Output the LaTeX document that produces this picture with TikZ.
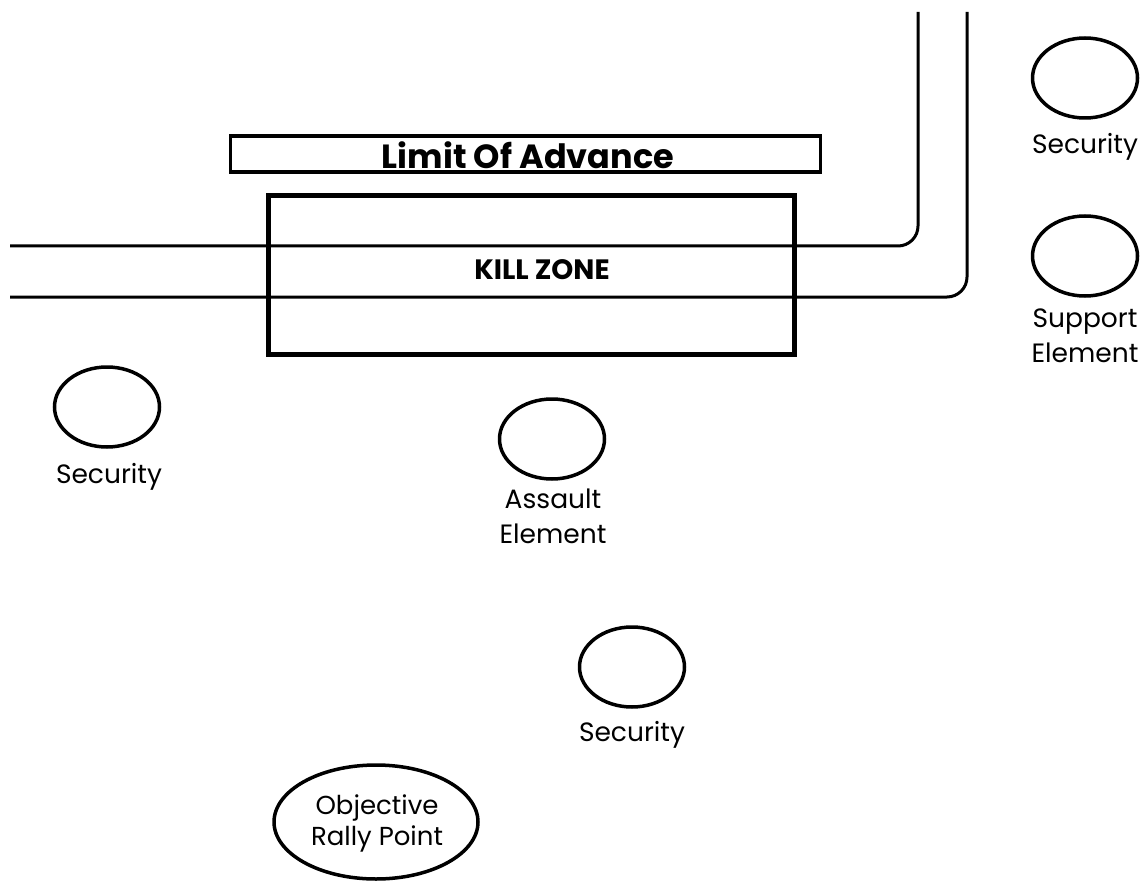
\documentclass[tikz,border=0pt]{standalone}
\usepackage{fontspec}
\setmainfont{Poppins}
\usetikzlibrary{shapes.geometric}
\tikzset{
  unit/.style={draw, ellipse, line width=3.5pt, minimum width=105pt, minimum height=80pt, inner sep=0pt},
  lbl/.style={align=center, inner sep=0pt, font=\fontsize{26.5}{35}\selectfont},
  road/.style={line width=3pt, rounded corners=20pt},
}
\begin{document}
\begin{tikzpicture}[x=1pt,y=-1pt]
\useasboundingbox (0,0) rectangle (1145,885);
% roads
\coordinate (r1s) at (10,246);
\coordinate (r1c) at (918,246);
\coordinate (r1e) at (918,12);
\coordinate (r2s) at (10,297);
\coordinate (r2c) at (967,297);
\coordinate (r2e) at (967,12);
\draw[road] (r1s) -- (r1c) -- (r1e);
\draw[road] (r2s) -- (r2c) -- (r2e);
% boxes
\node[draw, line width=3.5pt, minimum width=590pt, minimum height=36pt, inner sep=0pt] (loa) at (525.5,154) {};
\node[font=\bfseries\fontsize{33.5}{40}\selectfont, inner sep=0pt] (loat) at (528,155) {Limit Of Advance};
\node[draw, line width=5pt, minimum width=526pt, minimum height=158pt, inner sep=0pt] (kz) at (531,275) {};
\node[font=\bfseries\fontsize{28}{34}\selectfont, inner sep=0pt] (kzt) at (542,270) {KILL ZONE};
% units
\node[unit] (sec1) at (1085,78) {};
\node[lbl] (sec1l) at (1085,147) {Security};
\node[unit] (sup) at (1085,256) {};
\node[lbl] (supl) at (1085,336) {Support\\Element};
\node[unit] (sec2) at (107,407) {};
\node[lbl] (sec2l) at (109,477) {Security};
\node[unit] (asl) at (552,439) {};
\node[lbl] (asll) at (553,516) {Assault\\Element};
\node[unit] (sec3) at (632,667) {};
\node[lbl] (sec3l) at (632,735) {Security};
\node[draw, ellipse, line width=3.5pt, minimum width=204pt, minimum height=114pt, inner sep=0pt] (orp) at (376,822) {};
\node[lbl, font=\fontsize{26}{31}\selectfont] (orpl) at (377,823) {Objective\\Rally Point};
\end{tikzpicture}
\end{document}
